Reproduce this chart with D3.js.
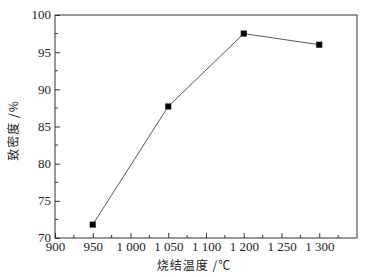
<!DOCTYPE html>
<html lang="zh">
<head>
<meta charset="UTF-8">
<script src="https://d3js.org/d3.v7.min.js"></script>
<style>
  body { margin: 0; background: #fff; }
  #plot { width: 368px; height: 277px; }
  .tick text { font-family: "Liberation Serif", "DejaVu Serif", serif; font-size: 13px; fill: #222; }
</style>
</head>
<body>
<div id="plot"></div>
<script>
// data
const xTickLabels = ["900", "950", "1 000", "1 050", "1 100", "1 200", "1 250", "1 300"];
const temps = ["950", "1 050", "1 200", "1 300"];
const density = [71.8, 87.7, 97.5, 96.0];
const yTicks = [70, 75, 80, 85, 90, 95, 100];

const margin = {top: 15, right: 11, bottom: 39, left: 55};
const width = 368, height = 277;
const visWidth = width - margin.left - margin.right;
const visHeight = height - margin.top - margin.bottom;

const svg = d3.select("#plot").append("svg")
    .attr("width", width)
    .attr("height", height)
  .append("g")
    .attr("transform", `translate(${margin.left},${margin.top})`);

// x is evenly spaced by label index, like the original figure
const x = d3.scaleLinear().domain([0, 8]).range([0, visWidth]);
const y = d3.scaleLinear().domain([70, 100]).range([visHeight, 0]);

const idx = t => xTickLabels.indexOf(t);

// minor ticks
const xMinor = d3.range(0.5, 8, 1);
const yMinor = d3.range(72.5, 100, 5);
svg.append("g").selectAll("line").data(xMinor).join("line")
    .attr("x1", d => x(d)).attr("x2", d => x(d))
    .attr("y1", visHeight).attr("y2", visHeight - 3)
    .attr("stroke", "#333");
svg.append("g").selectAll("line").data(yMinor).join("line")
    .attr("y1", d => y(d)).attr("y2", d => y(d))
    .attr("x1", 0).attr("x2", 3)
    .attr("stroke", "#333");

// axes
const xAxis = svg.append("g")
    .attr("transform", `translate(0,${visHeight})`)
    .call(d3.axisBottom(x)
      .tickValues(d3.range(xTickLabels.length))
      .tickFormat(i => xTickLabels[i])
      .tickSizeInner(-5).tickSizeOuter(0).tickPadding(4));
const yAxis = svg.append("g")
    .call(d3.axisLeft(y)
      .tickValues(yTicks)
      .tickSizeInner(-5).tickSizeOuter(0).tickPadding(4));
[xAxis, yAxis].forEach(a => {
  a.select(".domain").remove();
  a.selectAll(".tick line").attr("stroke", "#333");
});
yAxis.selectAll(".tick text").attr("dy", "0.3em");

// frame
svg.append("rect")
    .attr("width", visWidth).attr("height", visHeight)
    .attr("fill", "none").attr("stroke", "#333").attr("stroke-width", 1);

// line + markers
const pts = temps.map((t, i) => ({x: idx(t), y: density[i]}));
svg.append("path")
    .datum(pts)
    .attr("fill", "none")
    .attr("stroke", "#444")
    .attr("stroke-width", 0.9)
    .attr("d", d3.line().x(d => x(d.x)).y(d => y(d.y)));
svg.append("g").selectAll("rect").data(pts).join("rect")
    .attr("x", d => x(d.x) - 3)
    .attr("y", d => y(d.y) - 3)
    .attr("width", 6).attr("height", 6)
    .attr("fill", "#000");

// labels
svg.append("text")
    .attr("x", visWidth / 2 - 12)
    .attr("y", visHeight + 32)
    .attr("text-anchor", "middle")
    .style("font-family", "'Noto Sans CJK SC', sans-serif")
    .style("font-size", "12px")
    .style("letter-spacing", "1px")
    .style("fill", "#222")
    .text("烧结温度 /℃");

svg.append("text")
    .attr("transform", `translate(${-37},${y(85) + 4}) rotate(-90)`)
    .attr("text-anchor", "middle")
    .style("font-family", "'Noto Sans CJK SC', sans-serif")
    .style("font-size", "12px")
    .style("letter-spacing", "1px")
    .style("fill", "#222")
    .text("致密度 /%");
</script>
</body>
</html>
